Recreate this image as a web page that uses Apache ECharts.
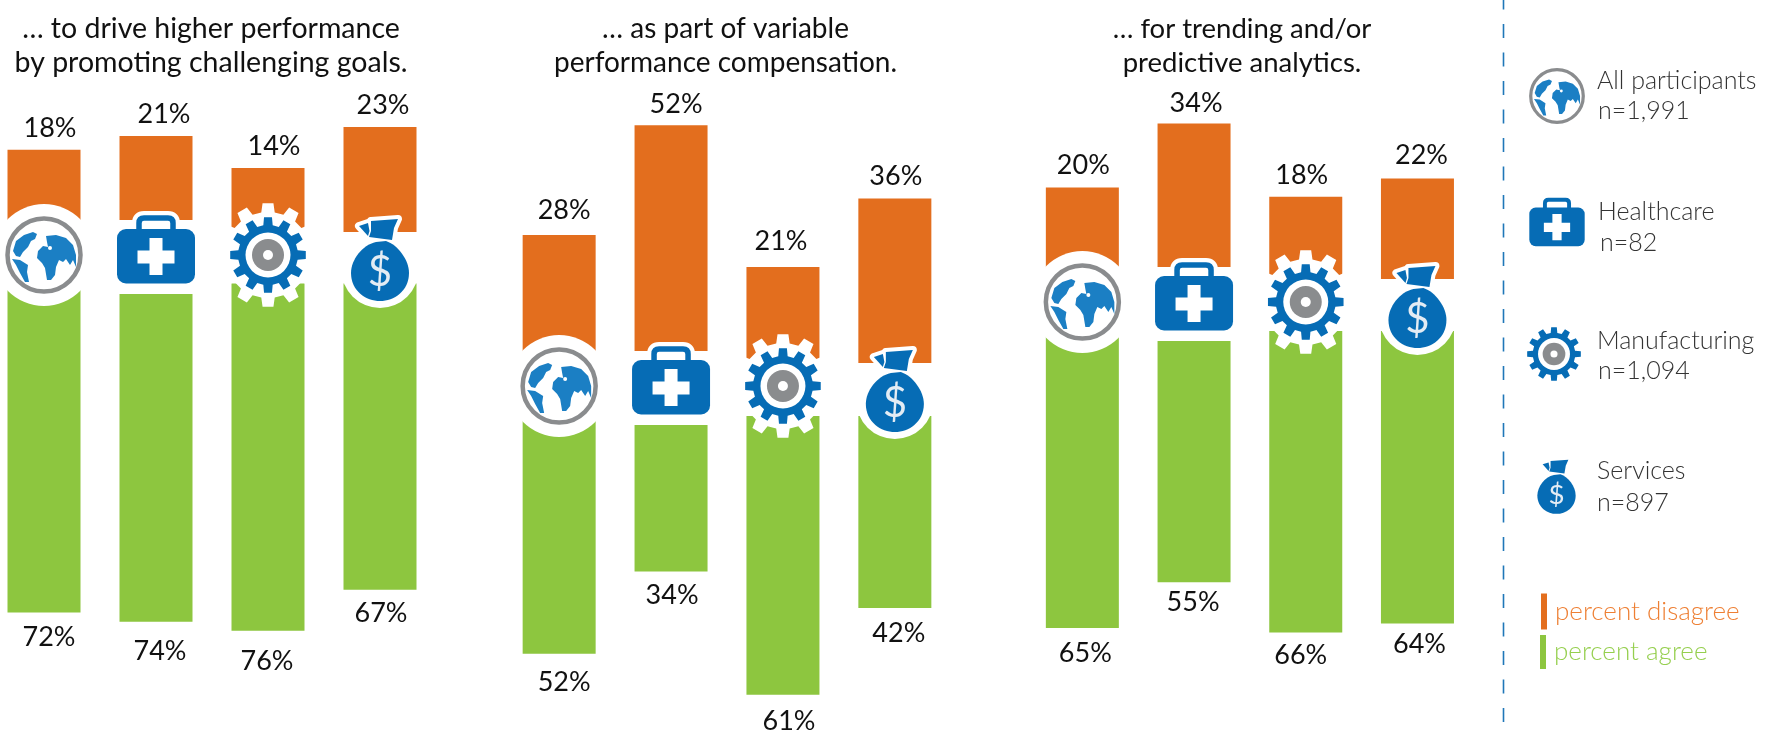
<!DOCTYPE html>
<html><head><meta charset="utf-8">
<style>html,body{margin:0;padding:0;background:#fff}#c{width:1775px;height:735px}</style>
<script src="https://cdn.jsdelivr.net/npm/echarts@6/dist/echarts.min.js"></script>
</head><body><div id="c"></div>
<script>
// ---- data ----
const industries = ['All participants','Healthcare','Manufacturing','Services'];
const sampleSizes = ['n=1,991','n=82','n=1,094','n=897'];
const titles = ['… to drive higher performance\nby promoting challenging goals.','… as part of variable\nperformance compensation.','… for trending and/or\npredictive analytics.'];
const disagreeDrive = [18,21,14,23];
const agreeDrive = [72,74,76,67];
const disagreeVariable = [28,52,21,36];
const agreeVariable = [52,34,61,42];
const disagreeTrending = [20,34,18,22];
const agreeTrending = [65,55,66,64];

// ---- layout ----
const FONT='Lato', ORANGE='#E36E1E', GREEN='#8DC63F', BLUE='#066CB5', GLOBE='#1B7FC4', GRAY='#8A8C8E', TXT='#111';
const PX=4.57, UPMAX=60, DOWNMAX=90;
const panels=[
 {left:-12,width:448,up:232,down:283.5,dis:disagreeDrive,agr:agreeDrive,cx:206,fs:28.5,
  top:[[6,0],[8,0],[6,0],[3,0]],bot:[[5,0.5],[4,5.5],[-1,5.5],[1,-1]]},
 {left:503.2,width:447.6,up:363,down:416,dis:disagreeVariable,agr:agreeVariable,cx:720.5,fs:28,
  top:[[5,-3],[5,0],[-2,-4.5],[1,-1]],bot:[[5,4.5],[1,-1],[6,2.5],[4,1]]},
 {left:1026.5,width:446.8,up:279,down:331,dis:disagreeTrending,agr:agreeTrending,cx:1237,fs:27.5,
  top:[[1,-1],[2,1],[-4,0],[4,-2]],bot:[[3,1],[-1,-4.5],[-5,-2],[2,-3.5]]}
];
function gearPath(R,r,n){
  let d='';
  const a=Math.PI*2/n;
  for(let i=0;i<n;i++){
    const t=i*a-Math.PI/2;
    const p=[[r,t-a*0.30],[R,t-a*0.20],[R,t+a*0.20],[r,t+a*0.30]];
    p.forEach((q,j)=>{d+=(i===0&&j===0?'M':'L')+(q[0]*Math.cos(q[1])).toFixed(2)+','+(q[0]*Math.sin(q[1])).toFixed(2)});
  }
  return d+'Z';
}
const P=(d,style)=>({type:'path',shape:{pathData:d},style:style});
const C=(cx,cy,r,style)=>({type:'circle',shape:{cx,cy,r},style});
function globeIcon(h){
  const c=[];
  if(h)c.push(C(0,0,51,{fill:'#fff'}));
  c.push(C(0,0,36.5,{fill:'#fff',stroke:GRAY,lineWidth:4.5}));
  c.push(P('M-31,-4L-28,-14L-20,-20L-11,-23L-7,-21L-9,-16L-13,-14L-16,-8L-21,-3L-24,2L-28,1Z',{fill:GLOBE}));
  c.push(P('M-32,4L-24,5L-16,10L-17,17L-15,27L-19,27L-24,18L-28,10Z',{fill:GLOBE}));
  c.push(P('M2,-19L12,-20L22,-17L29,-10L32,0L32,12L29,5L26,10L22,4L19,7L15,5L12,12L11,20L7,25L3,25L1,13L-2,8L-7,3L-6,-4L-1,-9L4,-8L3,-13Z',{fill:GLOBE}));
  c.push(C(6,-7,2,{fill:'#fff'}));
  return c;
}
function caseIcon(h){
  const c=[];
  if(h){
    c.push({type:'rect',shape:{x:-42,y:-35,width:84,height:74},style:{fill:'#fff'}});
    c.push(P('M-17,-26L-17,-32Q-17,-37 -12,-37L12,-37Q17,-37 17,-32L17,-26',{fill:'none',stroke:'#fff',lineWidth:14}));
  }
  c.push(P('M-17,-25L-17,-32Q-17,-37 -12,-37L12,-37Q17,-37 17,-32L17,-25',{fill:'none',stroke:BLUE,lineWidth:5.5}));
  c.push({type:'rect',shape:{x:-39,y:-26,width:78,height:54.5,r:9},style:{fill:BLUE}});
  c.push(P('M-6.5,-17H6.5V-4.5H18.5V8.5H6.5V20H-6.5V8.5H-18.5V-4.5H-6.5Z',{fill:'#fff'}));
  return c;
}
function gearIcon(h){
  const c=[];
  if(h)c.push(P(gearPath(52,43,12),{fill:'#fff'}));
  c.push(P(gearPath(38,30,12),{fill:BLUE}));
  c.push(C(0,0,22.5,{fill:'#fff'}));
  c.push(C(0,0,16,{fill:GRAY}));
  c.push(C(0,0,5,{fill:'#fff'}));
  return c;
}
function bagIcon(h){
  const c=[];
  const flapR='M-9,-34L18,-36L14,-27L12,-15L-11,-18L-9,-24Z';
  const flapL='M-21,-29L-12,-32L-10.5,-24L-12,-19Z';
  if(h){
    c.push(C(0,14.5,38.5,{fill:'#fff'}));
    c.push(P(flapR,{fill:'#fff',stroke:'#fff',lineWidth:8,lineJoin:'round'}));
    c.push(P(flapL,{fill:'#fff',stroke:'#fff',lineWidth:8,lineJoin:'round'}));
  }
  c.push(P(flapR,{fill:BLUE}));
  c.push(P(flapL,{fill:BLUE}));
  c.push(P('M-4,-13C-18,-10 -29,5 -29,18C-29,36 -14,46 0,46C14,46 29,36 29,18C29,5 18,-10 6,-14Z',{fill:BLUE}));
  c.push({type:'text',style:{text:'$',x:0,y:17,fill:'#E3ECF4',fontSize:42,fontFamily:FONT,align:'center',verticalAlign:'middle'}});
  return c;
}
const iconMakers=[globeIcon,caseIcon,gearIcon,bagIcon];

const grids=[],xAxes=[],yAxes=[],series=[];
panels.forEach((p,k)=>{
  const gU=grids.length;
  grids.push({left:p.left,width:p.width,top:p.up-UPMAX*PX,height:UPMAX*PX,outerBoundsMode:'none'});
  grids.push({left:p.left,width:p.width,top:p.down,height:DOWNMAX*PX,outerBoundsMode:'none'});
  [gU,gU+1].forEach((g,j)=>{
    xAxes.push({gridIndex:g,type:'category',data:industries,show:false});
    yAxes.push({gridIndex:g,type:'value',min:0,max:j?DOWNMAX:UPMAX,inverse:!!j,show:false});
  });
  const labelBase={show:true,formatter:'{c}%',fontFamily:FONT,fontSize:27,color:TXT,distance:8};
  series.push({name:'percent disagree',type:'bar',xAxisIndex:gU,yAxisIndex:gU,barWidth:73,itemStyle:{color:ORANGE},animation:false,
    label:Object.assign({position:'top'},labelBase),
    data:p.dis.map((v,i)=>({value:v,label:{offset:p.top[i]}}))});
  series.push({name:'percent agree',type:'bar',xAxisIndex:gU+1,yAxisIndex:gU+1,barWidth:73,itemStyle:{color:GREEN},animation:false,
    label:Object.assign({position:'bottom'},labelBase,{distance:11}),
    data:p.agr.map((v,i)=>({value:v,label:{offset:p.bot[i]}}))});
  series.push({type:'custom',xAxisIndex:gU,yAxisIndex:gU,z:5,animation:false,silent:true,
    data:industries.map((n,i)=>[i,0]),
    renderItem:(params,api)=>{
      const i=api.value(0), pt=api.coord([i,0]);
      return {type:'group',x:pt[0],y:pt[1]+23,children:iconMakers[i](true)};
    }});
});
// legend icons
const legendIconPos=[[1557,96,0.72],[1557,226,0.71],[1554,354,0.71],[1556.5,483.5,0.66]];
series.push({type:'custom',coordinateSystem:'none',z:5,animation:false,silent:true,
  data:industries.map((n,i)=>i),
  renderItem:(params)=>{
    const i=params.dataIndex,q=legendIconPos[i];
    return {type:'group',x:q[0],y:q[1],scaleX:q[2],scaleY:q[2],children:iconMakers[i](false)};
  }});

const legendText=[];
const nameY=[81,212,341,471], sizeY=[111,243,371,503], nameX=[1597,1598,1597,1597], sizeX=[1598,1600,1598,1597];
industries.forEach((n,i)=>{
  legendText.push({type:'text',x:nameX[i],y:nameY[i],style:{text:n,fill:'#333',fontFamily:FONT,fontWeight:300,fontSize:25,verticalAlign:'middle'}});
  legendText.push({type:'text',x:sizeX[i],y:sizeY[i],style:{text:sampleSizes[i],fill:'#333',fontFamily:FONT,fontWeight:300,fontSize:25,verticalAlign:'middle'}});
});
legendText.push({type:'line',shape:{x1:1503.5,y1:-4.5,x2:1503.5,y2:722},style:{stroke:'#1F77B8',lineWidth:1.6,lineDash:[14,14.5]}});

const chart=echarts.init(document.getElementById('c'),null,{renderer:'canvas'});
chart.setOption({
  animation:false,
  backgroundColor:'#fff',
  title:titles.map((t,i)=>({text:t,left:panels[i].cx,top:7,textAlign:'center',textStyle:{fontFamily:FONT,fontWeight:400,fontSize:panels[i].fs,lineHeight:34,color:TXT}})),
  legend:[
   {data:['percent disagree'],left:1541,top:593.5,padding:0,itemWidth:6,itemHeight:36,itemGap:0,icon:'rect',selectedMode:false,textStyle:{color:'#EE7F33',fontFamily:FONT,fontWeight:300,fontSize:26,padding:[0,0,13,3]}},
   {data:['percent agree'],left:1540,top:635,padding:0,itemWidth:6,itemHeight:34,itemGap:0,icon:'rect',selectedMode:false,textStyle:{color:'#95CF4E',fontFamily:FONT,fontWeight:300,fontSize:26,padding:[0,0,14,3]}}
  ],
  grid:grids,xAxis:xAxes,yAxis:yAxes,series:series,graphic:legendText
});
</script></body></html>
